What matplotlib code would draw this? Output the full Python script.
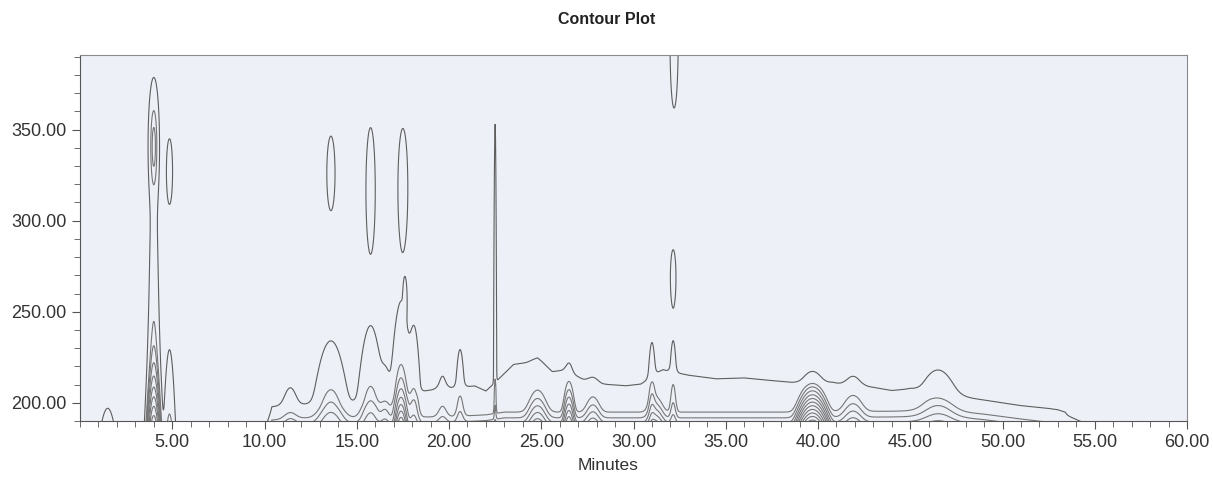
import numpy as np
import matplotlib.pyplot as plt
from matplotlib.ticker import MultipleLocator, FormatStrFormatter

plt.rcParams['font.family'] = ['Liberation Sans', 'DejaVu Sans']

# outer baseline contour edge (minutes -> nm)
edge_t = [0, 9.8, 10.4, 11.0, 12.3, 14.8, 18.6, 19.2, 20.2, 21.4, 22.0, 22.9, 23.5, 24.2,
          24.8, 25.6, 26.3, 27.3, 28.3, 29.6, 30.4, 31.6, 33.0, 34.5, 36.0, 37.5, 38.6,
          40.8, 41.2, 43.0, 44.0, 45.0, 48.2, 49.5, 51.0, 52.5, 53.4, 53.8, 60]
edge_nm = [180, 180, 193, 194.5, 195, 196.5, 205, 206, 207, 208, 205, 214, 220, 221,
           223, 216, 217, 211.5, 209, 208, 209, 217, 214, 212, 212.5, 211, 210,
           210, 209, 207, 205, 206, 199.5, 197, 194, 193, 191.5, 180, 180]

# low wavelength floor line
floor_t = [0, 10.0, 10.4, 12.0, 16.0, 20.0, 22.0, 23.0, 30.0, 38.0, 44.0, 47.0, 49.0, 51.0, 53.0, 55.0, 60]
floor_nm = [170, 170, 189, 190, 190, 190.5, 191.5, 193, 193, 193, 193.5, 194, 192, 189.5, 187, 178, 170]

# peaks absorbing from the low end: time, width, height, decay (nm)
peak_t = [1.5, 4.0, 4.0, 4.85, 11.4, 13.6, 15.75, 16.55, 17.4, 17.4, 18.1,
          19.65, 20.6, 22.5, 24.8, 26.5, 27.8, 31.0, 31.2, 32.15, 39.7, 41.9, 46.5]
peak_w = [0.18, 0.15, 0.14, 0.15, 0.27, 0.43, 0.33, 0.2, 0.25, 0.15, 0.18,
          0.2, 0.15, 0.045, 0.3, 0.15, 0.25, 0.12, 0.25, 0.12, 0.32, 0.35, 0.6]
peak_a = [4, 40, 600, 10, 7, 29.5, 26, 16, 45.7, 300, 21,
          7.5, 11.6, 10.6, 80, 190, 40, 26, 60, 18.8, 2870, 40, 22]
peak_d = [5, 30, 8, 17, 9, 13, 16, 10, 17, 5, 17,
          12, 16, 69, 6, 6, 6, 13.2, 5, 15, 3.4, 6.5, 9]

# isolated spectral bands: time, width, height, centre (nm), spread (nm)
band_t = [4.0, 4.0, 4.85, 13.6, 15.75, 17.5, 17.62, 32.15, 32.2]
band_w = [0.13, 0.12, 0.1, 0.15, 0.17, 0.18, 0.06, 0.1, 0.15]
band_a = [17, 1.8, 4, 3, 3, 3, 3, 3, 3]
band_mu = [341, 280, 327, 326, 317, 318, 257, 269, 400]
band_s = [15.6, 30, 10.8, 13.8, 23, 22, 6.5, 10, 25.7]

levels = [1, 8, 14, 25, 45, 80, 140, 250, 450, 800, 1400, 2500]
line_colors = ['#5e5e5e'] + ['#767676'] * (len(levels) - 1)

t = np.linspace(0, 60, 6001)
lam = np.linspace(189, 392, 407)

# build absorbance surface
le = np.interp(t, edge_t, edge_nm)
lf = np.interp(t, floor_t, floor_nm)
z = 3.0 / (1.0 + np.exp((lam[:, None] - le[None, :]) / 1.5))
z += 8.0 * np.exp(-(lam[:, None] - lf[None, :]) / 4.0)
for t0, w, a, d in zip(peak_t, peak_w, peak_a, peak_d):
    g = np.exp(-0.5 * ((t - t0) / w) ** 2)
    z += a * np.outer(np.exp(-(lam - 190) / d), g)
for t0, w, a, mu, s in zip(band_t, band_w, band_a, band_mu, band_s):
    g = np.exp(-0.5 * ((t - t0) / w) ** 2)
    z += a * np.outer(np.exp(-0.5 * ((lam - mu) / s) ** 2), g)

fig = plt.figure(figsize=(12.13, 4.79), dpi=100)
ax = fig.add_axes([80 / 1213, 1 - 421 / 479, 1107 / 1213, 366 / 479])
ax.set_facecolor('#eef0f8')

ax.contour(t, lam, z, levels=levels, colors=line_colors, linewidths=0.8)

ax.set_xlim(0, 60)
ax.set_ylim(190, 391)
ax.xaxis.set_major_locator(MultipleLocator(5))
ax.xaxis.set_minor_locator(MultipleLocator(1))
ax.yaxis.set_major_locator(MultipleLocator(50))
ax.yaxis.set_minor_locator(MultipleLocator(10))
ax.xaxis.set_major_formatter(FormatStrFormatter('%.2f'))
ax.yaxis.set_major_formatter(FormatStrFormatter('%.2f'))
ax.set_xticks([x for x in range(5, 61, 5)])
ax.tick_params(which='both', direction='out', color='#555555', labelcolor='#333333', labelsize=13)
ax.tick_params(which='major', length=6)
ax.tick_params(which='minor', length=4)
for side in ['left', 'bottom']:
    ax.spines[side].set_color('#555555')
for side in ['top', 'right']:
    ax.spines[side].set_color('#8a8a8a')

fig.text(607 / 1213, 1 - 20 / 479, 'Contour Plot', ha='center', va='center',
         fontsize=11.5, fontweight='bold', color='#222222')
fig.text(608 / 1213, 1 - 466 / 479, 'Minutes', ha='center', va='center',
         fontsize=12.5, color='#333333')

fig.savefig('out.png', dpi=100, facecolor='white')
